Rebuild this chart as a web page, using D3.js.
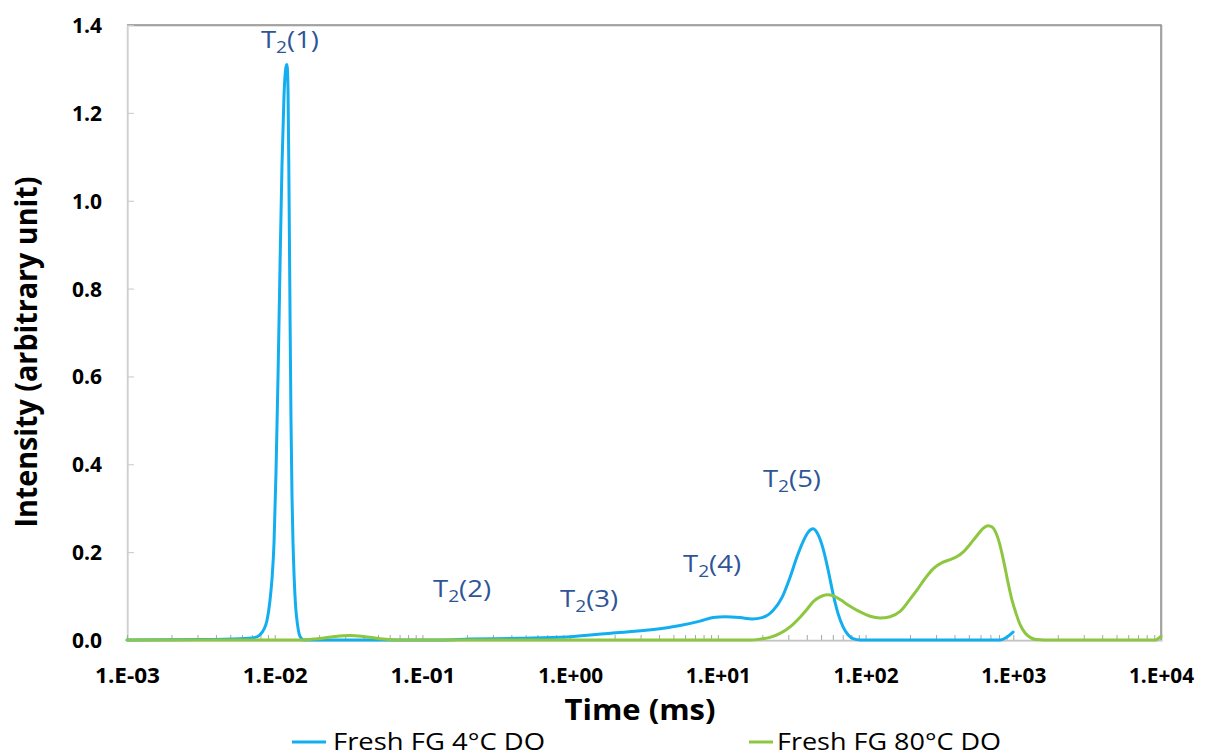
<!DOCTYPE html>
<html>
  <head>
    <meta charset="utf-8">
    <title>T2 distribution</title>
    <script src="https://d3js.org/d3.v7.min.js"></script>
    <style>
      body { margin: 0; background: #fff; }
      text { font-family: "Open Sans", "Noto Sans", sans-serif; }
      .tick text { font-weight: bold; fill: #000; }
    </style>
  </head>
  <body>
    <script>
      // Fresh FG 4°C DO (time in ms, intensity)
      const fresh4Time = [0.001, 0.00312, 0.00582, 0.00736, 0.00795, 0.00847, 0.00887, 0.00929, 0.00959, 0.00989,
        0.0102, 0.01053, 0.01086, 0.0112, 0.01156, 0.01193, 0.01211, 0.01231, 0.0125, 0.01269,
        0.01289, 0.01309, 0.0133, 0.01351, 0.01383, 0.01427, 0.01484, 0.01579, 0.1316, 0.2101,
        0.458, 0.953, 1.952, 4.53, 5.548, 7.58, 9.28, 11.19, 14.14, 17.04,
        19.93, 23.64, 27.21, 30.83, 34.38, 37.75, 40.8, 44.13, 47.69, 51.56,
        55.73, 60.26, 65.13, 70.42, 76.1, 82.3, 91.8, 814, 908, 997];
      const fresh4Intensity = [0, 0.001, 0.003, 0.006, 0.012, 0.025, 0.045, 0.09, 0.14, 0.22,
        0.38, 0.6, 0.85, 1.08, 1.24, 1.305, 1.31, 1.25, 1.02, 0.75,
        0.5, 0.33, 0.22, 0.15, 0.08, 0.035, 0.008, 0, 0, 0.002,
        0.004, 0.007, 0.016, 0.028, 0.033, 0.043, 0.051, 0.053, 0.051, 0.048,
        0.051, 0.067, 0.097, 0.143, 0.19, 0.224, 0.245, 0.253, 0.24, 0.208,
        0.16, 0.105, 0.06, 0.03, 0.012, 0.003, 0, 0, 0.007, 0.018];

      // Fresh FG 80°C DO
      const fresh80Time = [0.001, 0.01484, 0.01934, 0.02561, 0.03234, 0.0396, 0.0516, 0.0705, 16.52, 19.31,
        22.56, 26.37, 30.83, 36.03, 40.17, 44.13, 49.2, 54.87, 61.2, 67.2,
        78.5, 91.8, 107.3, 125.4, 146.5, 171.2, 200.1, 223.2, 252.8, 286.4,
        329.5, 373.4, 416.4, 457.4, 509.9, 568.6, 624.5, 675.1, 718.7, 764.9,
        814.3, 866.5, 922.2, 981.5, 1044.7, 1112, 1202, 1299.7, 1427, 1642,
        9124, 10000];
      const fresh80Intensity = [0, 0, 0.003, 0.008, 0.01, 0.008, 0.003, 0, 0, 0.002,
        0.006, 0.015, 0.03, 0.052, 0.07, 0.087, 0.098, 0.103, 0.1, 0.092,
        0.077, 0.064, 0.054, 0.05, 0.053, 0.065, 0.093, 0.114, 0.14, 0.162,
        0.176, 0.183, 0.19, 0.2, 0.218, 0.238, 0.254, 0.26, 0.257, 0.243,
        0.215, 0.175, 0.13, 0.09, 0.06, 0.035, 0.016, 0.006, 0.001, 0,
        0, 0.008];

      const xTickValues = [1e-3, 1e-2, 1e-1, 1e0, 1e1, 1e2, 1e3, 1e4];
      const xTickLabels = ["1.E-03", "1.E-02", "1.E-01", "1.E+00", "1.E+01", "1.E+02", "1.E+03", "1.E+04"];
      const yTickValues = [0, 0.2, 0.4, 0.6, 0.8, 1.0, 1.2, 1.4];

      // peak annotations: T2(n), left edge time and baseline intensity
      const peakNames = ["1", "2", "3", "4", "5"];
      const peakTime = [0.00807, 0.118, 0.855, 5.81, 20.2];
      const peakIntensity = [1.348, 0.098, 0.075, 0.155, 0.348];

      const seriesNames = ["Fresh FG 4°C DO", "Fresh FG 80°C DO"];
      const seriesColors = ["#12aef0", "#8dc63f"];

      const margin = {top: 25, right: 44, bottom: 116, left: 127};
      const size = {
        width: 1205 - margin.left - margin.right,
        height: 756 - margin.top - margin.bottom
      };

      const svg = d3.select("body")
        .append("svg")
        .attr("width", 1205)
        .attr("height", 756)
        .append("g")
        .attr("transform", "translate(" + margin.left + "," + margin.top + ")");

      const xScale = d3.scaleLog()
        .domain([1e-3, 1e4])
        .range([0, size.width]);

      const yScale = d3.scaleLinear()
        .domain([0, 1.4])
        .range([size.height, 0]);

      // minor ticks 2..9 for every decade
      const minorTicks = [];
      xTickValues.slice(0, -1).forEach(function(d) {
        for (let k = 2; k <= 9; k++) minorTicks.push(d * k);
      });

      // frame: top and right darker, with a little shadow
      svg.append("rect")
        .attr("x", 1).attr("y", 1)
        .attr("width", size.width).attr("height", size.height)
        .attr("fill", "none").attr("stroke", "#e4e4e4").attr("stroke-width", 2);
      svg.append("path")
        .attr("d", "M0,0H" + size.width + "V" + size.height)
        .attr("fill", "none").attr("stroke", "#8c8c8c").attr("stroke-width", 1.5);

      // Y axis
      const yAxis = svg.append("g")
        .call(d3.axisLeft(yScale)
          .tickValues(yTickValues)
          .tickSizeInner(-7)
          .tickSizeOuter(0)
          .tickPadding(25)
          .tickFormat(d3.format(".1f")));
      yAxis.select(".domain").attr("stroke", "#d0d0d0").attr("stroke-width", 1.5);
      yAxis.selectAll(".tick line").attr("stroke", "#c8c8c8");
      yAxis.selectAll(".tick text").style("font-size", "21px").attr("dy", "0.36em");

      // X axis minor ticks
      const xMinor = svg.append("g")
        .attr("transform", "translate(0," + size.height + ")")
        .call(d3.axisBottom(xScale)
          .tickValues(minorTicks)
          .tickSizeInner(-5)
          .tickSizeOuter(0)
          .tickFormat(""));
      xMinor.select(".domain").remove();
      xMinor.selectAll(".tick line").attr("stroke", "#a6a6a6");

      // X axis major ticks + labels
      const xAxis = svg.append("g")
        .attr("transform", "translate(0," + size.height + ")")
        .call(d3.axisBottom(xScale)
          .tickValues(xTickValues)
          .tickSizeInner(-5)
          .tickSizeOuter(0)
          .tickPadding(28)
          .tickFormat(function(d, i) { return xTickLabels[i]; }));
      xAxis.select(".domain").attr("stroke", "#c4c4c4").attr("stroke-width", 1.5);
      xAxis.selectAll(".tick line").attr("stroke", "#a6a6a6");
      xAxis.selectAll(".tick text").style("font-size", "21px").attr("dy", "0.72em")
        .attr("textLength", 65).attr("lengthAdjust", "spacingAndGlyphs");

      // curves
      const line = d3.line()
        .x(function(d) { return xScale(d[0]); })
        .y(function(d) { return yScale(d[1]); })
        .curve(d3.curveMonotoneX);

      const series = [
        d3.zip(fresh4Time, fresh4Intensity),
        d3.zip(fresh80Time, fresh80Intensity)
      ];

      series.forEach(function(s, i) {
        svg.append("path")
          .datum(s)
          .attr("d", line)
          .attr("fill", "none")
          .attr("stroke", seriesColors[i])
          .attr("stroke-width", 3)
          .attr("stroke-linejoin", "round")
          .attr("stroke-linecap", "round");
      });

      // peak labels T2(n)
      const peaks = svg.selectAll(".peak")
        .data(peakNames)
        .enter()
        .append("text")
        .attr("class", "peak")
        .attr("x", function(d, i) { return xScale(peakTime[i]); })
        .attr("y", function(d, i) { return yScale(peakIntensity[i]); })
        .attr("fill", "#2f5597")
        .style("font-size", "23px")
        .attr("textLength", 58)
        .attr("lengthAdjust", "spacingAndGlyphs");
      peaks.append("tspan").text("T");
      peaks.append("tspan").attr("dy", 5).style("font-size", "16px").text("2");
      peaks.append("tspan").attr("dy", -5).text(function(d) { return "(" + d + ")"; });

      // axis titles
      svg.append("text")
        .attr("x", 513)
        .attr("y", 695)
        .attr("text-anchor", "middle")
        .style("font-size", "29px")
        .style("font-weight", "bold")
        .attr("textLength", 151)
        .attr("lengthAdjust", "spacingAndGlyphs")
        .text("Time (ms)");

      svg.append("text")
        .attr("transform", "translate(-90," + 327 + ") rotate(-90)")
        .attr("text-anchor", "middle")
        .style("font-size", "30px")
        .style("font-weight", "bold")
        .attr("textLength", 351)
        .attr("lengthAdjust", "spacingAndGlyphs")
        .text("Intensity (arbitrary unit)");

      // legend
      const legendX = [165, 618];
      const legendTextX = [41, 32];
      const legendW = [212, 224];
      const legend = svg.selectAll(".legend")
        .data(seriesNames)
        .enter()
        .append("g")
        .attr("class", "legend")
        .attr("transform", function(d, i) { return "translate(" + legendX[i] + ",717)"; });
      legend.append("line")
        .attr("x1", function(d, i) { return i === 0 ? 0 : 4; })
        .attr("x2", function(d, i) { return i === 0 ? 34 : 28; })
        .attr("stroke", function(d, i) { return seriesColors[i]; })
        .attr("stroke-width", 3);
      legend.append("text")
        .attr("x", function(d, i) { return legendTextX[i]; })
        .attr("y", 8)
        .style("font-size", "23px")
        .attr("textLength", function(d, i) { return legendW[i]; })
        .attr("lengthAdjust", "spacingAndGlyphs")
        .text(function(d) { return d; });
    </script>
  </body>
</html>
